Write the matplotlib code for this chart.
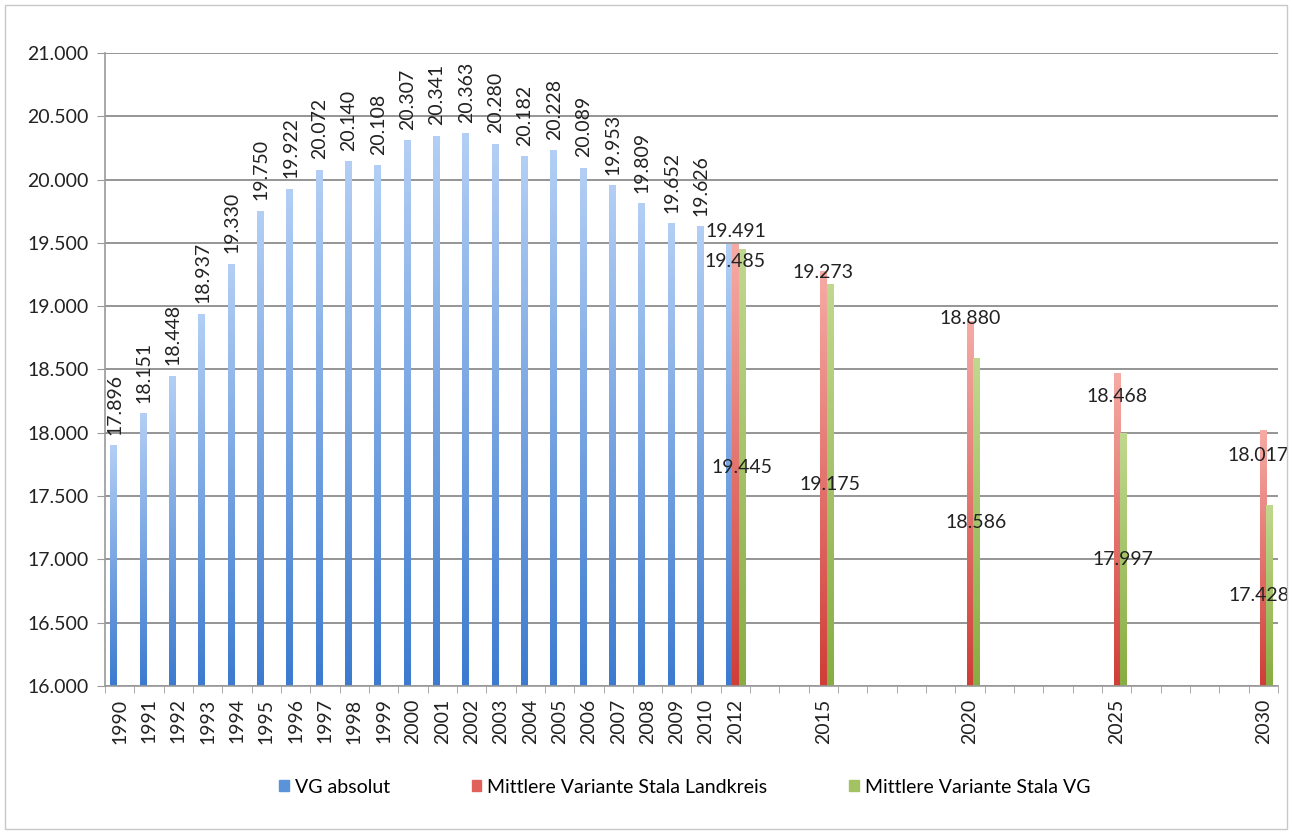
#!/usr/bin/env python3
"""Bevölkerung VG: Ist-Werte 1990-2012 und Varianten der Vorausberechnung bis 2030."""
import matplotlib
matplotlib.use("Agg")
import matplotlib.pyplot as plt
import numpy as np
from matplotlib.colors import LinearSegmentedColormap
from matplotlib.patches import Rectangle

plt.rcParams["font.family"] = ["Lato", "DejaVu Sans"]

# Kategorien (Kategorienachse wie im Excel-Original: 2011 fehlt, 2013-2030 einzeln)
years = list(range(1990, 2011)) + list(range(2012, 2031))
labeled_years = list(range(1990, 2011)) + [2012, 2015, 2020, 2025, 2030]

vg_years = list(range(1990, 2011)) + [2012]
vg_values = [17896, 18151, 18448, 18937, 19330, 19750, 19922, 20072, 20140, 20108,
             20307, 20341, 20363, 20280, 20182, 20228, 20089, 19953, 19809, 19652,
             19626, 19491]

proj_years = [2012, 2015, 2020, 2025, 2030]
landkreis_values = [19485, 19273, 18880, 18468, 18017]
stala_vg_values = [19445, 19175, 18586, 17997, 17428]

series_names = ["VG absolut", "Mittlere Variante Stala Landkreis", "Mittlere Variante Stala VG"]

# Stil
BASE = 16000
W = 0.21
FS = 14
TXT = "#222222"
grad = {
    "blue": ("#3d7bd0", "#b2cef4"),
    "red": ("#d03e38", "#f6aaa4"),
    "green": ("#88ad42", "#c0d88e"),
}
legend_col = {"blue": "#5b93d8", "red": "#e0615b", "green": "#a3c261"}
red_label_dy = [-17, -1, 3, -23, -25]   # Versatz der Landkreis-Beschriftungen (px)


def gbar(ax, x, top, key):
    lo, hi = grad[key]
    cmap = LinearSegmentedColormap.from_list(key, [lo, hi])
    img = np.linspace(0, 1, 64).reshape(-1, 1)
    ax.imshow(img, cmap=cmap, origin="lower", aspect="auto", interpolation="bilinear",
              extent=[x - W / 2, x + W / 2, BASE, top], zorder=3)


fig = plt.figure(figsize=(12.92, 8.34), dpi=100)
ax = fig.add_axes([0.0813, 0.1775, 0.9078, 0.759])
idx = {y: i for i, y in enumerate(years)}
flat_labels = []

for y, v in zip(vg_years, vg_values):
    x = idx[y] - W
    gbar(ax, x, v, "blue")
    if y == 2012:
        t = ax.annotate(f"{v/1000:.3f}", (idx[y], v), xytext=(0, 13), textcoords="offset pixels",
                        ha="center", va="center", fontsize=FS, color=TXT, zorder=5)
        flat_labels.append(t)
    else:
        ax.annotate(f"{v/1000:.3f}", (x, v), xytext=(1, 11), textcoords="offset pixels",
                    ha="center", va="bottom", rotation=90, fontsize=FS, color=TXT)

for y, v, dy in zip(proj_years, landkreis_values, red_label_dy):
    x = idx[y]
    gbar(ax, x, v, "red")
    t = ax.annotate(f"{v/1000:.3f}", (x, v), xytext=(0, dy), textcoords="offset pixels",
                    ha="center", va="center", fontsize=FS, color=TXT, zorder=5)
    flat_labels.append(t)

for y, v in zip(proj_years, stala_vg_values):
    x = idx[y] + W
    gbar(ax, x, v, "green")
    t = ax.annotate(f"{v/1000:.3f}", (x, (v + BASE) / 2), xytext=(0, 0),
                    textcoords="offset pixels", ha="center", va="center",
                    fontsize=FS, color=TXT, zorder=5)
    flat_labels.append(t)

ax.set_xlim(-0.5, len(years) - 0.5)
ax.set_ylim(16000, 21000)
yt = np.arange(16000, 21001, 500)
ax.set_yticks(yt)
ax.set_yticklabels([f"{t/1000:.3f}" for t in yt], fontsize=FS, color=TXT)
ax.set_xticks([idx[y] for y in labeled_years])
ax.set_xticklabels([str(y) for y in labeled_years], rotation=90, fontsize=FS, color=TXT)
ax.set_xticks(np.arange(-0.5, len(years)), minor=True)
ax.tick_params(axis="x", which="major", length=0, pad=9)
ax.tick_params(axis="x", which="minor", length=5, color="#9a9a9a", direction="out")
ax.tick_params(axis="y", length=6, color="#9a9a9a", direction="out", pad=6)
ax.yaxis.grid(True, color="#8c8c8c", linewidth=1.3, zorder=1)
ax.set_axisbelow(True)
for s in ("top", "right"):
    ax.spines[s].set_visible(False)
for s in ("left", "bottom"):
    ax.spines[s].set_color("#9a9a9a")
    ax.spines[s].set_linewidth(1.2)
    ax.spines[s].set_zorder(4)

handles = [Rectangle((0, 0), 1, 1, color=legend_col[k]) for k in ("blue", "red", "green")]
fig.legend(handles, series_names, loc="center", bbox_to_anchor=(0.53, 0.056), ncol=3,
           frameon=False, fontsize=FS, handlelength=0.5, handleheight=0.5,
           handletextpad=0.3, columnspacing=4.2)

fig.add_artist(Rectangle((0.004, 0.006), 0.992, 0.988, transform=fig.transFigure,
                         fill=False, edgecolor="#c8c8c8", linewidth=1))

# Beschriftungen am rechten Rand nach innen schieben (wie Excel)
fig.canvas.draw()
r = fig.canvas.get_renderer()
for t in flat_labels:
    bb = t.get_window_extent(r)
    over = bb.x1 - (fig.bbox.width - 3)
    if over > 0:
        dx, dy = t.xyann
        t.xyann = (dx - over, dy)

fig.savefig("out.png", dpi=100)
